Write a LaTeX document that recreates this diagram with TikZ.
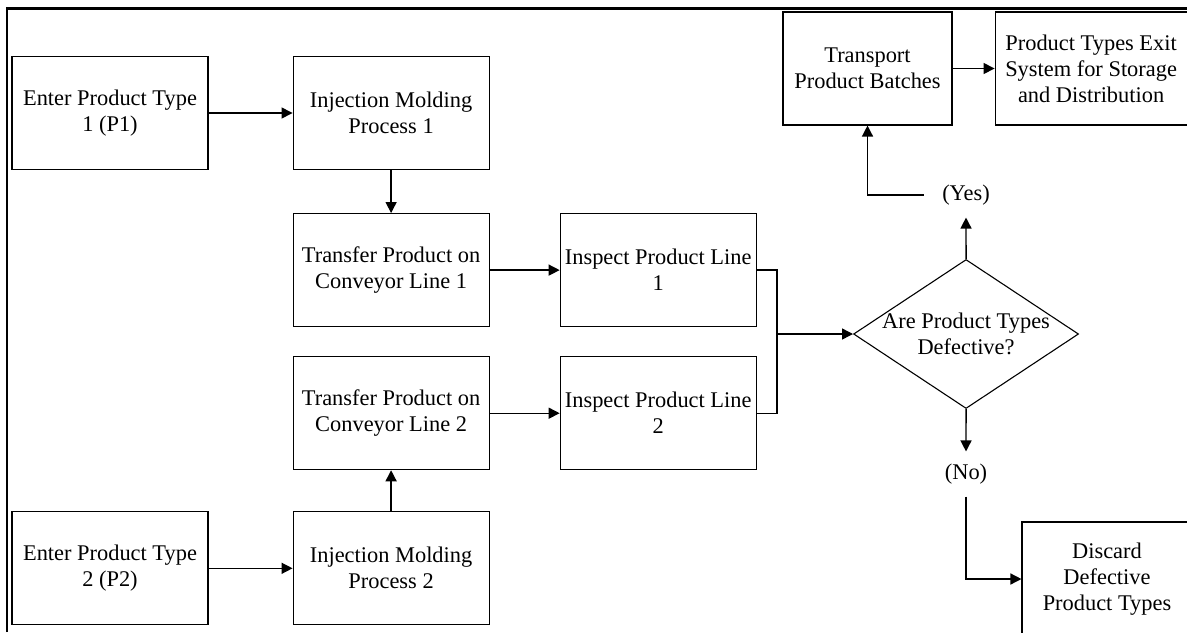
\documentclass[tikz,border=0pt]{standalone}
\usepackage{fontspec}
\setmainfont{Liberation Serif}
\usetikzlibrary{positioning,arrows.meta,shapes.geometric}

\begin{document}
\begin{tikzpicture}[x=1pt, y=1pt, node distance=21.5pt and 42pt,
    every node/.style={font=\fontsize{11.2pt}{13pt}\selectfont, align=center},
    box/.style={draw, line width=0.55pt, minimum width=98pt, minimum height=56.5pt, inner sep=0pt},
    tag/.style={inner xsep=9pt, inner ysep=6pt},
    link/.style={-{Triangle[length=5.5pt,width=5.5pt]}, line width=0.7pt}]
    \useasboundingbox (0,0) rectangle (593.5,-316);
    % frame, open to the right and bottom
    \draw[line width=1.2pt] (3.6,-316) -- (3.6,-4.3) -- (593.5,-4.3);

    % two entry lines
    \node (p1) [box] at (55,-56.5) {Enter Product Type\\1 (P1)};
    \node (inj1) [box, right=of p1] {Injection Molding\\Process 1};
    \node (tr1) [box, below=of inj1] {Transfer Product on\\Conveyor Line 1};
    \node (ins1) [box, right=35pt of tr1] {Inspect Product Line\\1};
    \node (tr2) [box, below=14.5pt of tr1] {Transfer Product on\\Conveyor Line 2};
    \node (ins2) [box, right=35pt of tr2] {Inspect Product Line\\2};
    \node (inj2) [box, below=20.5pt of tr2] {Injection Molding\\Process 2};
    \node (p2) [box, left=of inj2] {Enter Product Type\\2 (P2)};

    % decision and outcomes
    \coordinate (join) at (388.5,-167);
    \node (dec) [draw, line width=0.55pt, diamond, aspect=1.5, inner xsep=-2pt, inner ysep=0pt,
        minimum width=112.5pt, minimum height=74.5pt, right=38pt of join] {Are Product Types\\Defective?};
    \node (yes) [tag] at (483,-97.5) {(Yes)};
    \node (no) [tag] at (483,-237) {(No)};
    \node (trans) [box, minimum width=84.5pt] at (433.75,-34.25) {Transport\\Product Batches};
    \node (exit) [box, minimum width=96pt, right=21pt of trans] {Product Types Exit\\System for Storage\\and Distribution};
    \node (disc) [box, minimum width=85pt, minimum height=57pt] at (553.5,-289.5) {Discard\\Defective\\Product Types};

    \draw[link] (p1) -- (inj1);
    \draw[link] (inj1) -- (tr1);
    \draw[link] (tr1) -- (ins1);
    \draw[link] (p2) -- (inj2);
    \draw[link] (inj2) -- (tr2);
    \draw[link] (tr2) -- (ins2);
    \draw[line width=0.7pt] (ins1.east) -| (join) |- (ins2.east);
    \draw[link] (join) -- (dec.west);
    \draw[link] (dec.north) -- (yes.south);
    \draw[link] (yes.west) -| (trans.south);
    \draw[link] (trans) -- (exit);
    \draw[link] (dec.south) -- (no.north);
    \draw[link] (no.south) |- (disc.west);
\end{tikzpicture}
\end{document}
